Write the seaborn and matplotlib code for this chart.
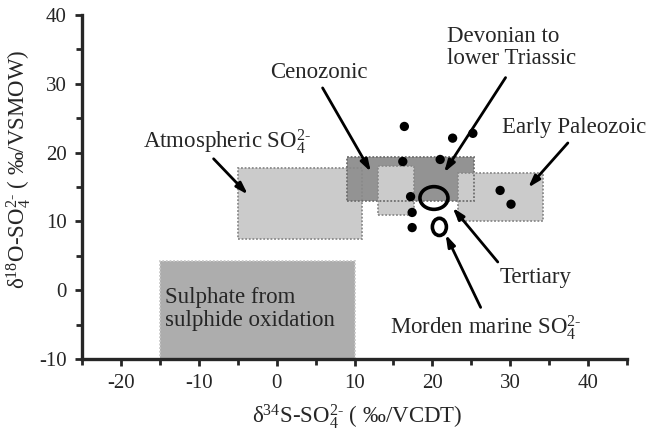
import matplotlib
matplotlib.use("Agg")
import matplotlib.pyplot as plt
import seaborn as sns
import pandas as pd
from matplotlib.patches import Rectangle, Ellipse
from matplotlib.ticker import MultipleLocator

# Measured sulphate samples (per mil)
d34S = [16.4, 22.6, 25.2, 16.2, 21.0, 17.2, 17.4, 17.4, 28.7, 30.1]
d18O = [23.8, 22.1, 22.8, 18.7, 19.0, 13.6, 11.3, 9.1, 14.5, 12.5]

# Source fields as rectangles: x range (d34S) and y range (d18O)
field_names = ["sulphide oxidation", "atmospheric", "Cenozonic / Devonian-lower Triassic",
               "evaporite", "Early Paleozoic"]
field_x0 = [-15.0, -5.0, 9.0, 13.0, 23.3]
field_x1 = [10.0, 11.0, 25.3, 17.6, 34.2]
field_y0 = [-10.0, 7.5, 12.9, 11.0, 10.0]
field_y1 = [4.2, 17.7, 19.4, 18.0, 17.1]

# Marine sulphate fields as ellipses: centre, width, height
ell_names = ["Tertiary", "Modern marine"]
ell_x = [20.2, 20.9]
ell_y = [13.4, 9.2]
ell_w = [3.6, 1.8]
ell_h = [3.3, 2.5]

# Annotations: text, text position, arrow tail, arrow tip
ann_text = [r"Atmospheric SO$_4^{2\text{-}}$", "Cenozonic", "Devonian to\nlower Triassic",
            "Early Paleozoic", "Tertiary", r"Morden marine SO$_4^{2\text{-}}$"]
ann_tx = [-6.4, 5.4, 21.9, 38.2, 33.3, 26.9]
ann_ty = [21.6, 31.7, 35.3, 23.6, 1.9, -5.4]
ann_x0 = [-8.1, 5.9, 29.4, 37.4, 28.4, 26.2]
ann_y0 = [19.1, 29.4, 30.9, 21.4, 4.1, -2.5]
ann_x1 = [-3.7, 12.1, 21.5, 32.3, 22.6, 21.7]
ann_y1 = [13.9, 17.2, 17.1, 14.9, 12.0, 8.1]

x_ticks = [-20, -10, 0, 10, 20, 30, 40]
y_ticks = [-10, 0, 10, 20, 30, 40]

sns.set_style("ticks")
plt.rcParams["font.family"] = ["Liberation Serif", "DejaVu Serif"]
plt.rcParams["mathtext.fontset"] = "custom"
plt.rcParams["mathtext.rm"] = "Liberation Serif"
plt.rcParams["mathtext.it"] = "Liberation Serif"
plt.rcParams["axes.unicode_minus"] = False

fig = plt.figure(figsize=(6.52, 4.37), dpi=100)
ax = fig.add_axes([0.1258, 0.1785, 0.8359, 0.7872])

fills = ["#adadad", "#cbcbcb", "#939393", "#cbcbcb", "#cbcbcb"]
edges = ["#c8c8c8", "#8a8a8a", "#6e6e6e", "#8a8a8a", "#8a8a8a"]
for i in range(len(field_names)):
    ax.add_patch(Rectangle((field_x0[i], field_y0[i]), field_x1[i] - field_x0[i],
                           field_y1[i] - field_y0[i], facecolor=fills[i],
                           edgecolor="none", zorder=1 + i * 0.1))
for i in range(len(field_names)):
    ax.add_patch(Rectangle((field_x0[i], field_y0[i]), field_x1[i] - field_x0[i],
                           field_y1[i] - field_y0[i], fill=False, edgecolor=edges[i],
                           linestyle=(0, (1, 1)), linewidth=1.3, zorder=2))

label_size = 16.5
ax.text(-14.3, -2.7, "Sulphate from\nsulphide oxidation", ha="left", va="center",
        fontsize=label_size, linespacing=1.1, zorder=5)

df = pd.DataFrame({"d34S": d34S, "d18O": d18O})
sns.scatterplot(data=df, x="d34S", y="d18O", ax=ax, color="black", s=45,
                edgecolor="none", zorder=4, legend=False)

for i in range(len(ell_names)):
    ax.add_patch(Ellipse((ell_x[i], ell_y[i]), ell_w[i], ell_h[i], fill=False,
                         edgecolor="black", linewidth=2.6, zorder=4))

for i in range(len(ann_text)):
    ha = "left" if "\n" in ann_text[i] else "center"
    ax.text(ann_tx[i], ann_ty[i], ann_text[i], ha=ha, va="center", fontsize=label_size,
            linespacing=1.05, zorder=5)
    ax.annotate("", xy=(ann_x1[i], ann_y1[i]), xytext=(ann_x0[i], ann_y0[i]),
                arrowprops=dict(arrowstyle="-|>,head_length=0.7,head_width=0.22",
                                color="black", lw=2, shrinkA=0, shrinkB=0),
                zorder=6)

ax.set_xlim(-25, 45)
ax.set_ylim(-10, 40)
ax.set_xticks(x_ticks)
ax.set_yticks(y_ticks)
ax.xaxis.set_minor_locator(MultipleLocator(5))
ax.yaxis.set_minor_locator(MultipleLocator(5))
ax.tick_params(axis="both", which="major", length=5, width=2, labelsize=15,
               direction="out", pad=6)
ax.tick_params(axis="both", which="minor", length=4, width=2, direction="out")
for side in ["top", "right"]:
    ax.spines[side].set_visible(False)
for side in ["left", "bottom"]:
    ax.spines[side].set_linewidth(2.4)

ax.set_xlabel(r"δ$^{34}$S-SO$_4^{2\text{-}}$ ( ‰/VCDT)", fontsize=label_size)
ax.set_ylabel(r"δ$^{18}$O-SO$_4^{2\text{-}}$ ( ‰/VSMOW)", fontsize=label_size)
ax.xaxis.set_label_coords(0.505, -0.125)
ax.yaxis.set_label_coords(-0.09, 0.552)

fig.savefig("out.png", dpi=100)
